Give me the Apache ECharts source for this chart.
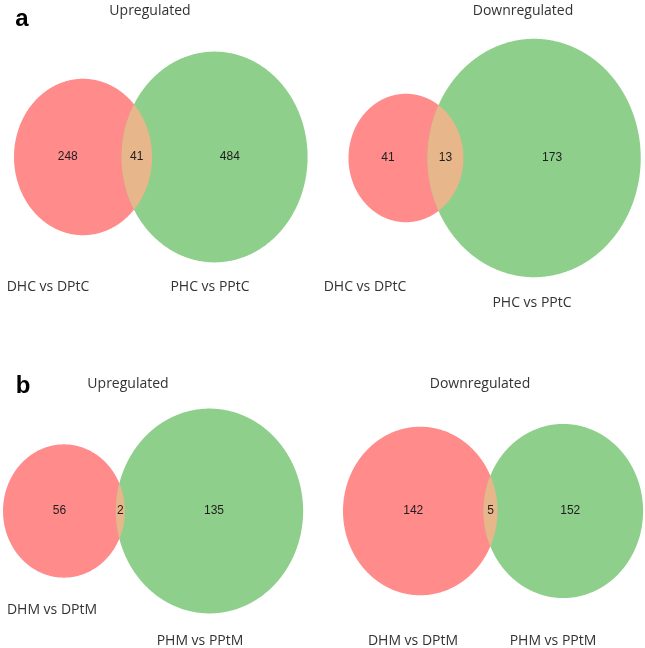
<!DOCTYPE html>
<html><head><meta charset="utf-8">
<script src="https://cdn.jsdelivr.net/npm/echarts@6/dist/echarts.min.js"></script>
<style>html,body{margin:0;padding:0;background:#fff}#c{width:645px;height:648px}</style>
</head><body><div id="c"></div>
<script>
// ---------- data ----------
const panelLetters = ['a', 'b'];
const panelTitles = ['Upregulated', 'Downregulated', 'Upregulated', 'Downregulated'];
const leftSetNames = ['DHC vs DPtC', 'DHC vs DPtC', 'DHM vs DPtM', 'DHM vs DPtM'];
const rightSetNames = ['PHC vs PPtC', 'PHC vs PPtC', 'PHM vs PPtM', 'PHM vs PPtM'];
const leftOnly = [248, 41, 56, 142];
const shared = [41, 13, 2, 5];
const rightOnly = [484, 173, 135, 152];

// ---------- layout (pixels / styles) ----------
const layout = [
  { box: [0, 0, 322, 324],   redLeft: 14,  cy: 157, kx: 4.06, ky: 4.6,  lens: 30.5,
    title: [150, 11], leftName: [48, 287], rightName: [210, 287] },
  { box: [322, 0, 323, 324], redLeft: 348.5, cy: 158, kx: 7.82, ky: 8.74, lens: 36,
    title: [523, 11], leftName: [365, 287], rightName: [532, 303] },
  { box: [0, 324, 322, 324], redLeft: 3,   cy: 511, kx: 8.0,  ky: 8.75, lens: 9,
    title: [128, 384], leftName: [52, 610], rightName: [200, 641] },
  { box: [322, 324, 323, 324], redLeft: 343, cy: 511, kx: 6.37, ky: 6.95, lens: 14,
    title: [480, 384], leftName: [413, 641], rightName: [553, 641] }
];
const letterPos = [[22, 19], [23, 386]];
const RED = '#FF8B8B', GREEN = '#8FCF8C', LENS = '#E8B68B';
const FONT = '"Open Sans", "Liberation Sans", sans-serif';

const grids = [], xAxes = [], yAxes = [], series = [];
layout.forEach((L, i) => {
  const rL = Math.sqrt(leftOnly[i] + shared[i]);
  const rR = Math.sqrt(rightOnly[i] + shared[i]);
  const d = rL + rR - L.lens / L.kx;
  const [bx, by, bw, bh] = L.box;
  const redCxPx = L.redLeft + rL * L.kx;
  const xmin = -(redCxPx - bx) / L.kx;
  const ymax = (L.cy - by) / L.ky;
  grids.push({ left: bx, top: by, width: bw, height: bh });
  xAxes.push({ type: 'value', gridIndex: i, min: xmin, max: xmin + bw / L.kx, show: false });
  yAxes.push({ type: 'value', gridIndex: i, min: ymax - bh / L.ky, max: ymax, show: false });
  series.push({
    type: 'custom', xAxisIndex: i, yAxisIndex: i, silent: true,
    data: [[0, d, 0, rL, rR, leftOnly[i], shared[i], rightOnly[i]]],
    renderItem: function (params, api) {
      const c1 = api.coord([api.value(0), api.value(2)]);
      const c2 = api.coord([api.value(1), api.value(2)]);
      const r1 = api.value(3), r2 = api.value(4);
      const rx1 = api.size([r1, 0])[0], ry1 = api.size([0, r1])[1];
      const rx2 = api.size([r2, 0])[0], ry2 = api.size([0, r2])[1];
      const N = 720;
      const ell = (c, rx, ry) => {
        const pts = [];
        for (let k = 0; k < N; k++) { const t = 2 * Math.PI * k / N; pts.push([c[0] + rx * Math.cos(t), c[1] + ry * Math.sin(t)]); }
        return pts;
      };
      const inside = (p, c, rx, ry) => Math.pow((p[0] - c[0]) / rx, 2) + Math.pow((p[1] - c[1]) / ry, 2) <= 1;
      const lens = [];
      for (let k = 0; k <= N; k++) { const t = -Math.PI + 2 * Math.PI * k / N; const p = [c1[0] + rx1 * Math.cos(t), c1[1] + ry1 * Math.sin(t)]; if (inside(p, c2, rx2, ry2)) lens.push(p); }
      for (let k = 0; k <= N; k++) { const t = 2 * Math.PI * k / N; const p = [c2[0] + rx2 * Math.cos(t), c2[1] + ry2 * Math.sin(t)]; if (inside(p, c1, rx1, ry1)) lens.push(p); }
      const redL = c1[0] - rx1, redR = c1[0] + rx1, grL = c2[0] - rx2, grR = c2[0] + rx2;
      const numStyle = (x, y, txt) => ({ type: 'text', style: { x: x, y: y, text: String(txt), fill: '#1e1e1e', font: '12px "Liberation Sans", Arial, sans-serif', align: 'center', verticalAlign: 'middle' } });
      return {
        type: 'group', children: [
          { type: 'polygon', shape: { points: ell(c1, rx1, ry1) }, style: { fill: RED } },
          { type: 'polygon', shape: { points: ell(c2, rx2, ry2) }, style: { fill: GREEN } },
          { type: 'polygon', shape: { points: lens }, style: { fill: LENS } },
          numStyle((redL + grL) / 2, c1[1], api.value(5)),
          numStyle((grL + redR) / 2, c1[1], api.value(6)),
          numStyle((redR + grR) / 2, c1[1], api.value(7))
        ]
      };
    }
  });
});

const graphics = [];
const txt = (x, y, s, font, fill) => ({ type: 'text', x: x, y: y, style: { text: s, font: font, fill: fill, align: 'center', verticalAlign: 'middle' } });
layout.forEach((L, i) => {
  graphics.push(txt(L.title[0], L.title[1], panelTitles[i], '14px ' + FONT, '#333'));
  graphics.push(txt(L.leftName[0], L.leftName[1], leftSetNames[i], '14px ' + FONT, '#333'));
  graphics.push(txt(L.rightName[0], L.rightName[1], rightSetNames[i], '14px ' + FONT, '#333'));
});
panelLetters.forEach((s, i) => graphics.push(txt(letterPos[i][0], letterPos[i][1], s, 'bold 24px "Liberation Sans", Arial, sans-serif', '#000')));

const chart = echarts.init(document.getElementById('c'), null, { renderer: 'canvas' });
chart.setOption({
  animation: false,
  backgroundColor: '#fff',
  grid: grids, xAxis: xAxes, yAxis: yAxes, series: series,
  graphic: graphics
});
</script></body></html>
